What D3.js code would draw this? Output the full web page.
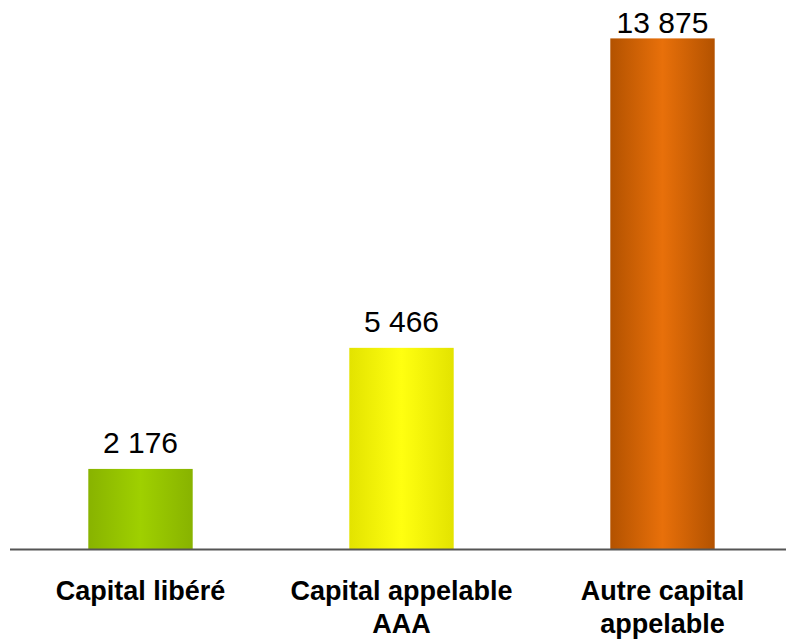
<!DOCTYPE html>
<html>
<head>
<meta charset="utf-8">
<script src="https://cdn.jsdelivr.net/npm/d3@7"></script>
<style>
  html, body { margin: 0; padding: 0; background: #fff; }
  svg { display: block; }
</style>
</head>
<body>
<svg id="chart" width="786" height="641"></svg>
<script>
const categories = ["Capital libéré", "Capital appelable AAA", "Autre capital appelable"];
const labelLines = [["Capital libéré"], ["Capital appelable", "AAA"], ["Autre capital", "appelable"]];
const values = [2176, 5466, 13875];
const edgeColors = ["#88b300", "#e3e300", "#b35200"];
const centerColors = ["#9fd000", "#ffff10", "#e8700a"];

const svg = d3.select("#chart");
const baseY = 549;
const x = d3.scaleBand().domain(categories).range([10, 793]).paddingInner(0.6).paddingOuter(0.3);
const y = d3.scaleLinear().domain([0, 14000]).range([baseY, baseY - 14000 * 0.0368]);

const defs = svg.append("defs");
categories.forEach((c, i) => {
  const g = defs.append("linearGradient").attr("id", "grad" + i)
    .attr("x1", "0%").attr("x2", "100%").attr("y1", "0%").attr("y2", "0%");
  g.append("stop").attr("offset", "0%").attr("stop-color", edgeColors[i]);
  g.append("stop").attr("offset", "50%").attr("stop-color", centerColors[i]);
  g.append("stop").attr("offset", "100%").attr("stop-color", edgeColors[i]);
});

const fmt = d3.formatLocale({decimal: ",", thousands: " ", grouping: [3], currency: ["", " €"]}).format(",d");

svg.selectAll("rect.bar").data(values).enter().append("rect")
  .attr("class", "bar")
  .attr("x", (d, i) => x(categories[i]))
  .attr("width", x.bandwidth())
  .attr("y", d => y(d))
  .attr("height", d => y(0) - y(d))
  .attr("fill", (d, i) => `url(#grad${i})`);

svg.selectAll("text.val").data(values).enter().append("text")
  .attr("class", "val")
  .attr("x", (d, i) => x(categories[i]) + x.bandwidth() / 2)
  .attr("y", d => Math.max(y(d) - 16, 33))
  .attr("text-anchor", "middle")
  .attr("font-family", "Liberation Sans, Arial, sans-serif")
  .attr("font-size", 30)
  .attr("fill", "#000")
  .text(d => fmt(d));

svg.append("line")
  .attr("x1", 10).attr("x2", 786)
  .attr("y1", baseY + 0.5).attr("y2", baseY + 0.5)
  .attr("stroke", "#555").attr("stroke-width", 2);

const lbl = svg.selectAll("text.cat").data(categories).enter().append("text")
  .attr("class", "cat")
  .attr("text-anchor", "middle")
  .attr("font-family", "Liberation Sans, Arial, sans-serif")
  .attr("font-weight", "bold")
  .attr("font-size", 27)
  .attr("fill", "#000");
lbl.each(function(c, i) {
  const t = d3.select(this);
  labelLines[i].forEach((line, j) => {
    t.append("tspan")
      .attr("x", x(c) + x.bandwidth() / 2)
      .attr("y", 600 + j * 33)
      .text(line);
  });
});
</script>
</body>
</html>
